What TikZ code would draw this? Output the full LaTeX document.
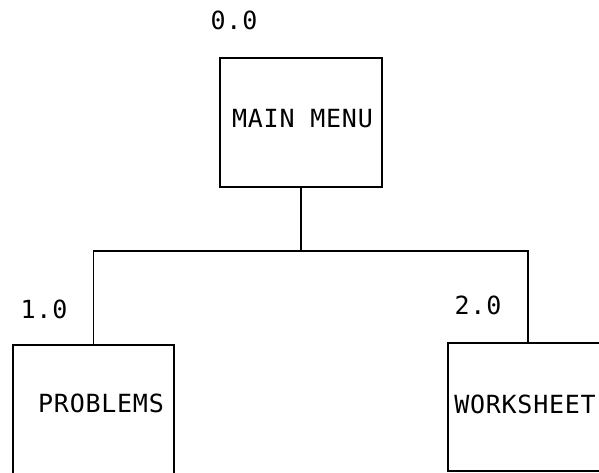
\documentclass[tikz,border=0pt]{standalone}
\usepackage{fontspec}
\newfontfamily\plotfont[LetterSpace=3]{DejaVu Sans Mono}
\begin{document}
\begin{tikzpicture}[x=1pt,y=-1pt,
  box/.style={draw=black,line width=1.2pt,minimum width=#1,inner sep=0pt},
  conn/.style={draw=black,line width=1.2pt},
  txt/.style={font=\plotfont\fontsize{25}{25}\selectfont,inner sep=0pt,text=black}]
\useasboundingbox (0,0) rectangle (599,472);
\clip (0,0) rectangle (599,472);
\fill[white] (0,0) rectangle (599,472);
% boxes
\node[box=162pt,minimum height=129pt] (main) at (301,122.5) {};
\node[box=161pt,minimum height=140pt] (prob) at (93.5,415) {};
\node[box=160pt,minimum height=128pt] (work) at (528,407) {};
% texts
\node[txt] (tmain) at (302.5,119) {MAIN MENU};
\node[txt] (tprob) at (101,403) {PROBLEMS};
\node[txt] (twork) at (525,404) {WORKSHEET};
\node[txt] (l0) at (234,20) {0.0};
\node[txt] (l1) at (44,309) {1.0};
\node[txt] (l2) at (478,305) {2.0};
% connectors
\coordinate (j) at (301,251);
\draw[conn] (main.south) -- (j);
\draw[conn] (prob.north) |- (j) -| (work.north);
\end{tikzpicture}
\end{document}
